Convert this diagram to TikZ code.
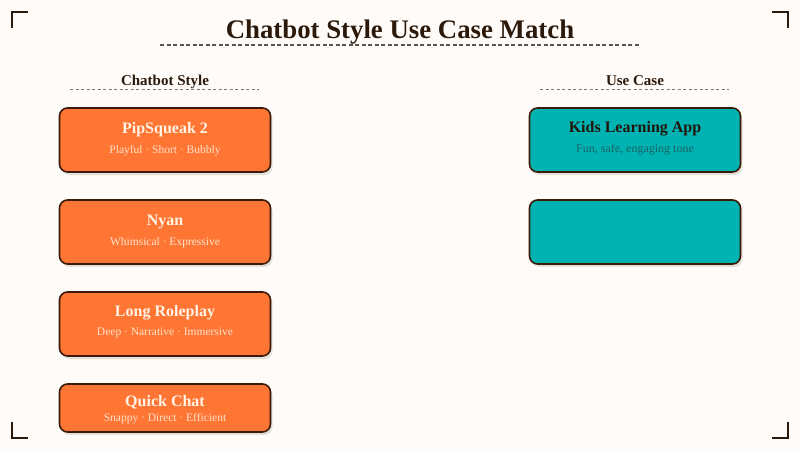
\documentclass[tikz,border=0pt]{standalone}
\usepackage{fontspec}
\setmainfont{Liberation Serif}
\usepackage{tikz}
\usetikzlibrary{shadows}
\definecolor{PageCream}{HTML}{FFFBF8}
\definecolor{InkBrown}{HTML}{2B1A0C}
\definecolor{EdgeBrown}{HTML}{3A1A08}
\definecolor{RuleGray}{HTML}{5A5550}
\definecolor{StyleOrange}{HTML}{FF7634}
\definecolor{CaseTeal}{HTML}{00B3B3}
\definecolor{CreamText}{HTML}{FFF4E6}
\definecolor{PeachText}{HTML}{FFE2CC}
\definecolor{DarkTeal}{HTML}{1A6464}
\definecolor{ShadeGray}{HTML}{E6E0DA}

\begin{document}
\begin{tikzpicture}[x=1pt,y=-1pt, every node/.style={font=\rmfamily},
  card/.style={draw=EdgeBrown, line width=1.6pt, rounded corners=8pt,
    minimum width=211pt, minimum height=64pt, inner sep=0pt,
    drop shadow={shadow xshift=2pt, shadow yshift=-3pt, fill=ShadeGray, opacity=1}},
  stylecard/.style={card, fill=StyleOrange},
  casecard/.style={card, fill=CaseTeal},
  cardtitle/.style={anchor=base, inner sep=0pt, font=\fontsize{16}{18}\selectfont\bfseries},
  cardnote/.style={anchor=base, inner sep=0pt, font=\fontsize{11.5}{13}\selectfont},
  corner/.style={draw=InkBrown, line width=1.8pt}]

  \fill[PageCream] (0,0) rectangle (800,450);
  \useasboundingbox (0,0) rectangle (800,450);

  % corner marks
  \draw[corner] (28,12) -- (12,12) -- (12,28);
  \draw[corner] (772,12) -- (788,12) -- (788,28);
  \draw[corner] (12,422) -- (12,438) -- (28,438);
  \draw[corner] (788,422) -- (788,438) -- (772,438);

  % heading
  \node[anchor=base, inner sep=0pt, color=InkBrown, font=\fontsize{26.8}{30}\selectfont\bfseries] (title) at (400,38) {Chatbot Style Use Case Match};
  \draw[RuleGray, line width=1.2pt, dash pattern=on 4pt off 2.5pt] (160,45) -- (640,45);

  \node[anchor=base, inner sep=0pt, color=InkBrown, font=\fontsize{15}{17}\selectfont\bfseries] (stylehead) at (165,85) {Chatbot Style};
  \draw[RuleGray!80, line width=1pt, dash pattern=on 3pt off 2.5pt] (70,89.5) -- (259,89.5);
  \node[anchor=base, inner sep=0pt, color=InkBrown, font=\fontsize{15}{17}\selectfont\bfseries] (casehead) at (635,85) {Use Case};
  \draw[RuleGray!80, line width=1pt, dash pattern=on 3pt off 2.5pt] (540,89.5) -- (729,89.5);

  % chatbot styles
  \node[stylecard] (pip) at (165,140) {};
  \node[cardtitle, color=CreamText] (piptitle) at (165,133) {PipSqueak 2};
  \node[cardnote, color=PeachText] (pipnote) at (165,153) {Playful · Short · Bubbly};

  \node[stylecard] (nyan) at (165,232) {};
  \node[cardtitle, color=CreamText] (nyantitle) at (165,225) {Nyan};
  \node[cardnote, color=PeachText] (nyannote) at (165,245) {Whimsical · Expressive};

  \node[stylecard] (long) at (165,324) {};
  \node[cardtitle, color=CreamText] (longtitle) at (165,316) {Long Roleplay};
  \node[cardnote, color=PeachText] (longnote) at (165,335) {Deep · Narrative · Immersive};

  \node[stylecard, minimum height=48pt] (quick) at (165,408) {};
  \node[cardtitle, color=CreamText] (quicktitle) at (165,406) {Quick Chat};
  \node[cardnote, color=PeachText] (quicknote) at (165,421) {Snappy · Direct · Efficient};

  % use cases
  \node[casecard] (kids) at (635,140) {};
  \node[cardtitle, color=InkBrown!80!black] (kidstitle) at (635,132) {Kids Learning App};
  \node[cardnote, color=DarkTeal, font=\fontsize{12}{13}\selectfont] (kidsnote) at (635,152) {Fun, safe, engaging tone};

  \node[casecard] (blank) at (635,232) {};
\end{tikzpicture}
\end{document}
